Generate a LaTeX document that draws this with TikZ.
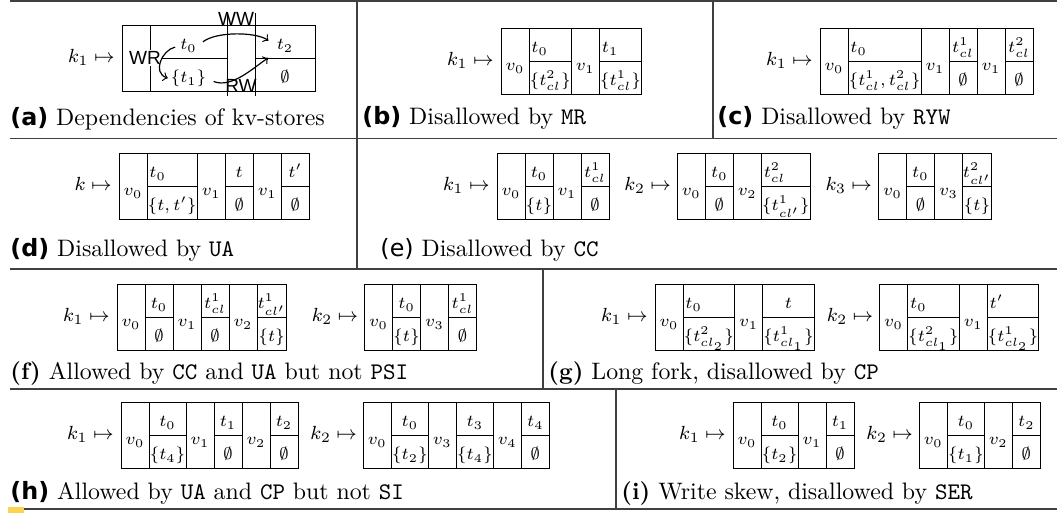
\documentclass[tikz,border=0pt]{standalone}
\usepackage{fontspec}
\newfontfamily\depfont{Liberation Sans}
\newfontfamily\labfont{DejaVu Sans}
\definecolor{markyellow}{RGB}{250,212,80}

% sizes in pixel units of the picture
\newlength\cellw
\newcommand\pxu{0.42}
\newcommand\bh{66}
\newcommand\minw{28}
\newcommand\pad{1}
\newcommand\cellfont{\fontsize{7.2}{8.6}\selectfont}
\newcommand\keyfont{\fontsize{8}{9.5}\selectfont}

% key label, then the cells follow from the box left edge
\newcommand{\kvstore}[4]{%
  \pgfmathsetmacro\xcur{#3}\edef\ytop{#4}%
  \node[keylbl] (#1) at ({#3-7},{#4+\bh/2+5}) {$#2\mapsto$};}
% next key on the same line, #3 = gap after the previous box
\newcommand{\kvnext}[3]{%
  \settowidth\cellw{\keyfont$#2\mapsto$}%
  \node[keylbl, anchor=base west] (#1) at ({\xcur+#3},{\ytop+\bh/2+5}) {$#2\mapsto$};
  \pgfmathsetmacro\xcur{\xcur+#3+\cellw/\pxu+7}}
% value cell (spans both rows)
\newcommand{\vcell}[3][\minw]{%
  \settowidth\cellw{\cellfont$#3$}%
  \pgfmathsetmacro\cw{max(#1,\cellw/\pxu+\pad)}%
  \draw[cell] (\xcur,\ytop) rectangle ++(\cw,\bh);
  \node[celltxt] (#2) at ({\xcur+\cw/2},{\ytop+43}) {$#3$};
  \pgfmathsetmacro\xcur{\xcur+\cw}}
% writer / readers cell
\newcommand{\tcell}[5][\minw]{%
  \settowidth\cellw{\cellfont$#4$}\pgfmathsetmacro\wa{\cellw/\pxu}%
  \settowidth\cellw{\cellfont$#5$}\pgfmathsetmacro\wb{\cellw/\pxu}%
  \pgfmathsetmacro\cw{max(#1,\wa+\pad,\wb+\pad)}%
  \draw[cell] (\xcur,\ytop) rectangle ++(\cw,\bh);
  \draw[cell] (\xcur,{\ytop+\bh/2}) -- ++(\cw,0);
  \if l#3
    \node[celltxt, anchor=base west] (#2w) at ({\xcur+2},{\ytop+25}) {$#4$};
  \else
    \node[celltxt] (#2w) at ({\xcur+\cw/2},{\ytop+25}) {$#4$};
  \fi
  \node[celltxt] (#2r) at ({\xcur+\cw/2},{\ytop+58}) {$#5$};
  \pgfmathsetmacro\xcur{\xcur+\cw}}

\tikzset{
  cell/.style={draw=black, line width=0.4pt},
  celltxt/.style={inner sep=0pt, font=\cellfont, anchor=base},
  keylbl/.style={inner sep=0pt, font=\keyfont, anchor=base east},
  deplbl/.style={inner sep=0.5pt, font=\footnotesize\depfont},
  dep/.style={->, line width=0.5pt},
  sepline/.style={draw=black!75, line width=0.6pt},
  subcap/.style={inner sep=0pt, anchor=base west, font=\normalsize},
}

\begin{document}
\begin{tikzpicture}[x=0.42pt, y=-0.42pt]
\useasboundingbox (0,0) rectangle (1057,513);

% frame of the sub-figures
\draw[sepline] (10,1) -- (1057,1);
\draw[sepline] (10,138.5) -- (1057,138.5);
\draw[sepline] (10,269) -- (1057,269);
\draw[sepline] (10,389) -- (1057,389);
\draw[sepline] (10,509) -- (1057,509);
\draw[sepline] (357,1) -- (357,269);
\draw[sepline] (713,1) -- (713,138.5);
\draw[sepline] (543,269) -- (543,389);
\draw[sepline] (616,389) -- (616,509);
\fill[markyellow] (8,507) rectangle (24,513);

% (a)
\kvstore{ka}{k_1}{122}{25}
\vcell{av0}{}
\tcell[77]{at}{c}{t_0}{\{t_1\}}
\vcell{av1}{}
\tcell[60]{au}{c}{t_2}{\emptyset}
\draw[cell] (227,13) -- (227,25) (255,13) -- (255,25);
\draw[cell] (227,91) -- (227,96) (255,91) -- (255,96);
\node[deplbl, fill=white] (wr) at (145,58) {WR};
\node[deplbl] (ww) at (236,19) {WW};
\node[deplbl] (rw) at (241,86) {RW};
\draw[dep, shorten <=3pt, shorten >=4pt] (atw.east) .. controls +(20,-15) and +(-20,-14) .. (auw.west);
\draw[dep, shorten <=3pt, shorten >=4pt] (atr.east) .. controls +(25,10) and +(-22,14) .. (auw.south west);
\draw[dep, shorten <=2pt, shorten >=1pt] (atw.west) .. controls +(-18,4) and +(-18,-6) .. (atr.west);
\node[subcap] (capa) at (10,126) {{\labfont\bfseries (a)} Dependencies of kv-stores};

% (b)
\kvstore{kb}{k_1}{501}{28}
\vcell{bv0}{v_0}
\tcell{bt0}{l}{t_0}{\{t^2_{cl}\}}
\vcell{bv1}{v_1}
\tcell{bt1}{l}{t_1}{\{t^1_{cl}\}}
\node[subcap] (capb) at (362,125) {{\labfont\bfseries (b)} Disallowed by \texttt{MR}};

% (c)
\kvstore{kc}{k_1}{820}{28}
\vcell{cv0}{v_0}
\tcell{ct0}{l}{t_0}{\{t^1_{cl},t^2_{cl}\}}
\vcell{cv1}{v_1}
\tcell{ct1}{c}{t^1_{cl}}{\emptyset}
\vcell{cv2}{v_1}
\tcell{ct2}{c}{t^2_{cl}}{\emptyset}
\node[subcap] (capc) at (717,125) {{\labfont\bfseries (c)} Disallowed by \texttt{RYW}};

% (d)
\kvstore{kd}{k}{119}{153}
\vcell{dv0}{v_0}
\tcell{dt0}{l}{t_0}{\{t,t'\}}
\vcell{dv1}{v_1}
\tcell{dt1}{c}{t}{\emptyset}
\vcell{dv2}{v_1}
\tcell{dt2}{c}{t'}{\emptyset}
\node[subcap] (capd) at (10,257) {{\labfont\bfseries (d)} Disallowed by \texttt{UA}};

% (e)
\kvstore{ke1}{k_1}{497}{153}
\vcell{e1v0}{v_0}
\tcell{e1t0}{c}{t_0}{\{t\}}
\vcell{e1v1}{v_1}
\tcell{e1t1}{c}{t^1_{cl}}{\emptyset}
\kvnext{ke2}{k_2}{15}
\vcell{e2v0}{v_0}
\tcell{e2t0}{c}{t_0}{\emptyset}
\vcell{e2v2}{v_2}
\tcell{e2t2}{l}{t^2_{cl}}{\{t^1_{cl'}\}}
\kvnext{ke3}{k_3}{15}
\vcell{e3v0}{v_0}
\tcell{e3t0}{c}{t_0}{\emptyset}
\vcell{e3v3}{v_3}
\tcell{e3t3}{c}{t^2_{cl'}}{\{t\}}
\node[subcap] (cape) at (380,257) {{\labfont (e)} Disallowed by \texttt{CC}};

% (f)
\kvstore{kf1}{k_1}{117}{284}
\vcell{f1v0}{v_0}
\tcell{f1t0}{c}{t_0}{\emptyset}
\vcell{f1v1}{v_1}
\tcell{f1t1}{c}{t^1_{cl}}{\emptyset}
\vcell{f1v2}{v_2}
\tcell{f1t2}{c}{t^1_{cl'}}{\{t\}}
\kvnext{kf2}{k_2}{25}
\vcell{f2v0}{v_0}
\tcell{f2t0}{c}{t_0}{\{t\}}
\vcell{f2v3}{v_3}
\tcell{f2t3}{c}{t^1_{cl}}{\emptyset}
\node[subcap] (capf) at (10,380) {\textbf{(f)} Allowed by \texttt{CC} and \texttt{UA} but not \texttt{PSI}};

% (g)
\kvstore{kg1}{k_1}{655}{284}
\vcell{g1v0}{v_0}
\tcell{g1t0}{l}{t_0}{\{t^2_{cl_2}\}}
\vcell{g1v1}{v_1}
\tcell{g1t1}{c}{t}{\{t^1_{cl_1}\}}
\kvnext{kg2}{k_2}{12}
\vcell{g2v0}{v_0}
\tcell{g2t0}{l}{t_0}{\{t^2_{cl_1}\}}
\vcell{g2v1}{v_1}
\tcell{g2t1}{l}{t'}{\{t^1_{cl_2}\}}
\node[subcap] (capg) at (548,380) {\textbf{(g)} Long fork, disallowed by \texttt{CP}};

% (h)
\kvstore{kh1}{k_1}{121}{402}
\vcell{h1v0}{v_0}
\tcell{h1t0}{c}{t_0}{\{t_4\}}
\vcell{h1v1}{v_1}
\tcell{h1t1}{c}{t_1}{\emptyset}
\vcell{h1v2}{v_2}
\tcell{h1t2}{c}{t_2}{\emptyset}
\kvnext{kh2}{k_2}{12}
\vcell{h2v0}{v_0}
\tcell{h2t0}{c}{t_0}{\{t_2\}}
\vcell{h2v3}{v_3}
\tcell{h2t3}{c}{t_3}{\{t_4\}}
\vcell{h2v4}{v_4}
\tcell{h2t4}{c}{t_4}{\emptyset}
\node[subcap] (caph) at (10,500) {{\labfont\bfseries (h)} Allowed by \texttt{UA} and \texttt{CP} but not \texttt{SI}};

% (i)
\kvstore{ki1}{k_1}{733}{402}
\vcell{i1v0}{v_0}
\tcell{i1t0}{c}{t_0}{\{t_2\}}
\vcell{i1v1}{v_1}
\tcell{i1t1}{c}{t_1}{\emptyset}
\kvnext{ki2}{k_2}{12}
\vcell{i2v0}{v_0}
\tcell{i2t0}{c}{t_0}{\{t_1\}}
\vcell{i2v2}{v_2}
\tcell{i2t2}{c}{t_2}{\emptyset}
\node[subcap] (capi) at (621,500) {\textbf{(i)} Write skew, disallowed by \texttt{SER}};
\end{tikzpicture}
\end{document}
